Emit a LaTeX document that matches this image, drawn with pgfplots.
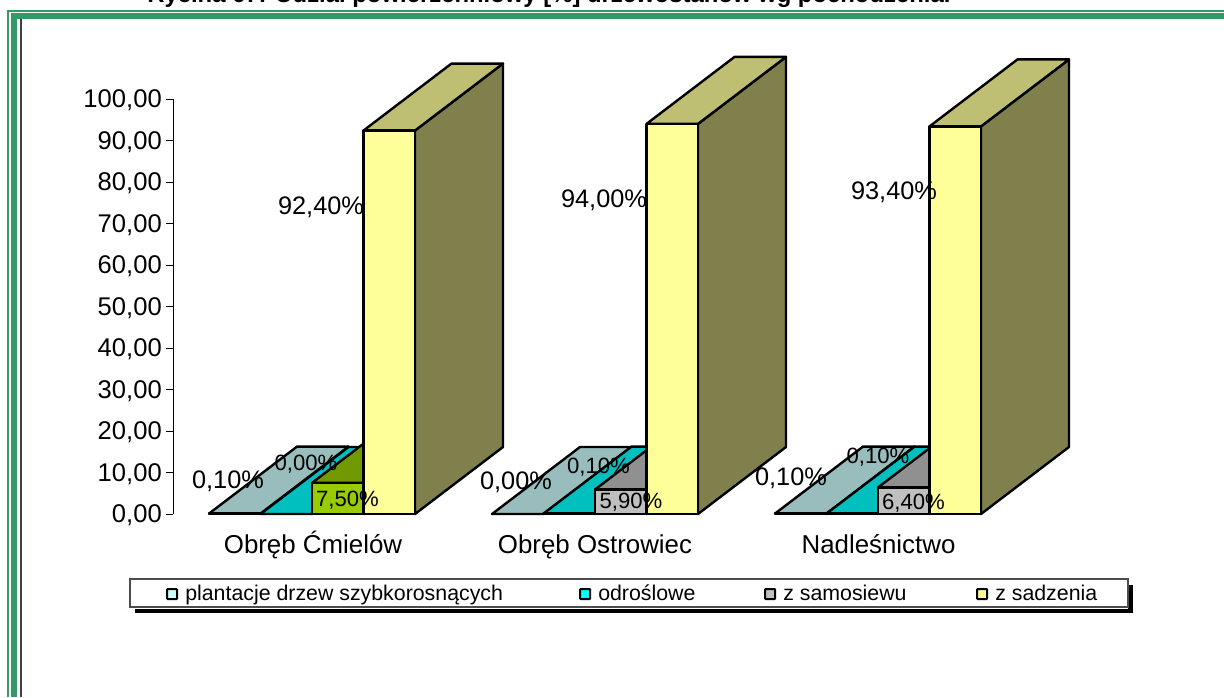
\documentclass[border=0pt]{standalone}
\usepackage{pgfplots}
\pgfplotsset{compat=1.18}
\usepackage{fontspec}
\setmainfont{Liberation Sans}
\definecolor{frameg}{HTML}{339966}
\definecolor{tealtop}{HTML}{99BDBD}
\definecolor{tealfront}{HTML}{CCFFFF}
\definecolor{tealside}{HTML}{668080}
\definecolor{cyanfront}{HTML}{00FFFF}
\definecolor{cyantop}{HTML}{00BFBF}
\definecolor{cyanside}{HTML}{008080}
\definecolor{limefront}{HTML}{99CC00}
\definecolor{limetop}{HTML}{739900}
\definecolor{limeside}{HTML}{4D6600}
\definecolor{grayfront}{HTML}{C0C0C0}
\definecolor{graytop}{HTML}{909090}
\definecolor{grayside}{HTML}{606060}
\definecolor{yelfront}{HTML}{FFFF99}
\definecolor{yeltop}{HTML}{BFBF73}
\definecolor{yelside}{HTML}{80804D}
\newcommand{\threeDbar}[5]{% x0, value, front, top, side  (x in px, value in %)
  \pgfmathsetmacro{\xa}{#1}
  \pgfmathsetmacro{\xb}{#1+51.5}
  \pgfmathsetmacro{\xc}{#1+88}
  \pgfmathsetmacro{\xd}{#1+139.5}
  \pgfmathsetmacro{\yb}{#2+16.14}
  \addplot[fill=#5,draw=black,line width=1.8pt,line join=round] coordinates {(\xb,0)(\xd,16.14)(\xd,\yb)(\xb,#2)} --cycle;
  \addplot[fill=#4,draw=black,line width=1.8pt,line join=round] coordinates {(\xa,#2)(\xb,#2)(\xd,\yb)(\xc,\yb)} --cycle;
  \addplot[fill=#3,draw=black,line width=1.8pt,line join=round] coordinates {(\xa,0)(\xb,0)(\xb,#2)(\xa,#2)} --cycle;
}
\begin{document}
\begin{tikzpicture}[x=0.75pt,y=0.75pt]
\path[use as bounding box] (0,0) rectangle (1224,697);
% page frame
\fill[frameg] (7,0) rectangle (9,687);
\fill[frameg] (7,685) rectangle (1224,687);
\fill[frameg] (11,0) rectangle (17,684);
\fill[frameg] (11,678) rectangle (1224,684);
\fill[black!75] (20,0) rectangle (22,678);
\node[font=\bfseries\fontsize{17.9}{20}\selectfont,anchor=base west,inner sep=0pt] at (147,694) {Rycina 67: Udział powierzchniowy [\%] drzewostanów wg pochodzenia.};
% legend shadow
\fill[black] (135,84) rectangle (1133,88);
\fill[black] (1128,84) rectangle (1133,112);
\begin{axis}[
  at={(129.75pt,137.25pt)},anchor=south west,
  x=0.75pt,y=3.1125pt,
  xmin=173,xmax=1100,ymin=0,ymax=100,
  clip=false,
  axis y line=left,
  axis x line=none,
  y axis line style={-,line width=0.6pt,black},
  ytick={0,10,...,100},
  tick align=outside,
  tick style={black,line width=0.6pt},
  major tick length=5pt,
  yticklabels={{0,00},{10,00},{20,00},{30,00},{40,00},{50,00},{60,00},{70,00},{80,00},{90,00},{100,00}},
  yticklabel style={font=\fontsize{19.2}{22}\selectfont,inner sep=0pt,xshift=-3.2pt,yshift=-1pt},
  /pgf/number format/assume math mode=true,
]
\threeDbar{209}{0.1}{tealfront}{tealtop}{tealside}
\threeDbar{260.5}{0.0}{cyanfront}{cyantop}{cyanside}
\threeDbar{312}{7.5}{limefront}{limetop}{limeside}
\threeDbar{363.5}{92.4}{yelfront}{yeltop}{yelside}
\threeDbar{492}{0.0}{tealfront}{tealtop}{tealside}
\threeDbar{543.5}{0.1}{cyanfront}{cyantop}{cyanside}
\threeDbar{595}{5.9}{grayfront}{graytop}{grayside}
\threeDbar{646.5}{94.0}{yelfront}{yeltop}{yelside}
\threeDbar{775}{0.1}{tealfront}{tealtop}{tealside}
\threeDbar{826.5}{0.1}{cyanfront}{cyantop}{cyanside}
\threeDbar{878}{6.4}{grayfront}{graytop}{grayside}
\threeDbar{929.5}{93.4}{yelfront}{yeltop}{yelside}
\tikzset{dl/.style={font=\fontsize{19}{22}\selectfont,inner sep=0pt,anchor=center},ds/.style={font=\fontsize{16.6}{20}\selectfont,inner sep=0pt,anchor=center},cl/.style={font=\fontsize{19.4}{22}\selectfont,inner sep=0pt,anchor=base}}
\node[dl] at (axis cs:228,7.8) {0,10\%};
\node[ds] at (axis cs:306,11.9) {0,00\%};
\node[ds] at (axis cs:347.5,3.3) {7,50\%};
\node[dl] at (axis cs:321,74.0) {92,40\%};
\node[dl] at (axis cs:516,7.7) {0,00\%};
\node[ds] at (axis cs:598.5,11.4) {0,10\%};
\node[ds] at (axis cs:631,2.8) {5,90\%};
\node[dl] at (axis cs:604,75.6) {94,00\%};
\node[dl] at (axis cs:791,8.6) {0,10\%};
\node[ds] at (axis cs:878,13.6) {0,10\%};
\node[ds] at (axis cs:913.5,2.6) {6,40\%};
\node[dl] at (axis cs:894,77.6) {93,40\%};
\node[cl] at (axis cs:313,-9.4) {Obręb Ćmielów};
\node[cl] at (axis cs:595,-9.4) {Obręb Ostrowiec};
\node[cl] at (axis cs:878.5,-9.4) {Nadleśnictwo};
\end{axis}
\filldraw[fill=white,draw=black!70,line width=0.8pt] (130,90) rectangle (1128,118);
\tikzset{lk/.style={draw=black,line width=1.5pt,rounded corners=0.5pt},lt/.style={font=\fontsize{16}{18}\selectfont,anchor=base west,inner sep=0pt}}
\filldraw[fill=tealfront,lk] (167,98) rectangle (177,108);
\node[lt] at (185,96.5) {plantacje drzew szybkorosnących};
\filldraw[fill=cyanfront,lk] (580,98) rectangle (590,108);
\node[lt] at (598,96.5) {odroślowe};
\filldraw[fill=grayfront,lk] (765,98) rectangle (775,108);
\node[lt] at (783,96.5) {z samosiewu};
\filldraw[fill=yelfront,lk] (977,98) rectangle (987,108);
\node[lt] at (995,96.5) {z sadzenia};
\end{tikzpicture}
\end{document}
